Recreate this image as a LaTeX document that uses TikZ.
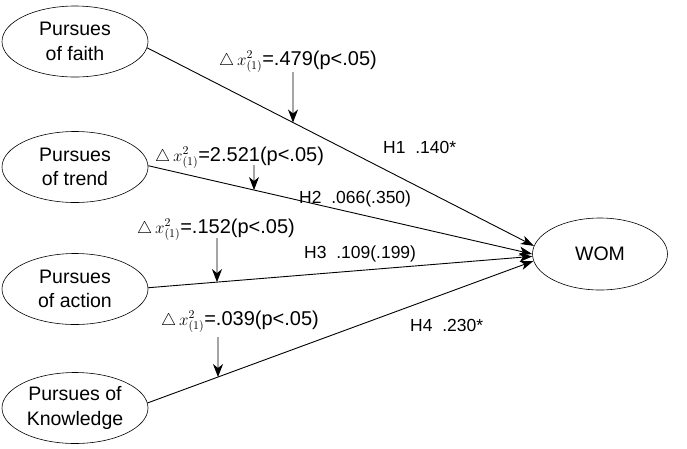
\RequirePackage{fix-cm}
\documentclass[tikz,border=0pt]{standalone}
\usepackage{fontspec}
\setmainfont{Liberation Sans}
\usetikzlibrary{shapes.geometric,arrows.meta,intersections}
\newcommand{\chisq}{{\fontsize{17}{19}\selectfont$\triangle\,x^{2}_{(1)}$}}
\begin{document}
\begin{tikzpicture}[x=1pt,y=-1pt,
  var/.style={draw, line width=0.6pt, ellipse, minimum width=146pt, minimum height=71pt,
    inner sep=0pt, align=center, font=\fontsize{19.5}{24.5}\selectfont},
  conn/.style={line width=0.9pt, -{Stealth[length=13pt,width=9pt,inset=3.5pt]}},
  varrow/.style={line width=0.9pt, -{Stealth[length=13pt,width=10pt,inset=4pt]}},
  lab/.style={anchor=base west, inner sep=0pt, font=\fontsize{20}{22}\selectfont},
  hlab/.style={anchor=base west, inner sep=0pt, font=\fontsize{17.5}{20}\selectfont}]
\useasboundingbox (0,0) rectangle (687,448);
% variables
\node[var] (faith) at (75,41.5) {Pursues\\of faith};
\node[var] (trend) at (75,167) {Pursues\\of trend};
\node[var] (action) at (75,289) {Pursues\\of action};
\node[var] (know) at (75,408) {Pursues of\\Knowledge};
\node[var, minimum width=135pt, minimum height=72pt] (wom) at (600,254) {WOM};
% paths
\draw[conn, name path=p1] (faith.-5) -- (wom.173);
\draw[conn, name path=p2] (trend.1) -- (wom.180);
\draw[conn, name path=p3] (action.1) -- (wom.182);
\draw[conn, name path=p4] (know.4) -- (wom.186);
% chi-square labels
\node[lab] (l1) at (219,65) {\chisq=.479(p<.05)};
\node[lab] (l2) at (155,161) {\chisq=2.521(p<.05)};
\node[lab] (l3) at (137,233) {\chisq=.152(p<.05)};
\node[lab] (l4) at (161,325) {\chisq=.039(p<.05)};
% coefficient labels
\node[hlab] (h1) at (383,153) {H1\ \ .140*};
\node[hlab] (h2) at (299,203) {H2\ \ .066(.350)};
\node[hlab] (h3) at (304,258) {H3\ \ .109(.199)};
\node[hlab] (h4) at (410,331) {H4\ \ .230*};
% vertical arrows
\coordinate (a1) at (293,72);
\coordinate (a2) at (254,165);
\coordinate (a3) at (217,238);
\coordinate (a4) at (218,337);
\path[name path=v1] (a1) -- ++(0,150);
\path[name path=v2] (a2) -- ++(0,150);
\path[name path=v3] (a3) -- ++(0,150);
\path[name path=v4] (a4) -- ++(0,150);
\path[name intersections={of=p1 and v1, by=t1}];
\path[name intersections={of=p2 and v2, by=t2}];
\path[name intersections={of=p3 and v3, by=t3}];
\path[name intersections={of=p4 and v4, by=t4}];
\draw[varrow] (a1) -- (t1);
\draw[varrow] (a2) -- (t2);
\draw[varrow] (a3) -- (t3);
\draw[varrow] (a4) -- (t4);
\end{tikzpicture}
\end{document}
